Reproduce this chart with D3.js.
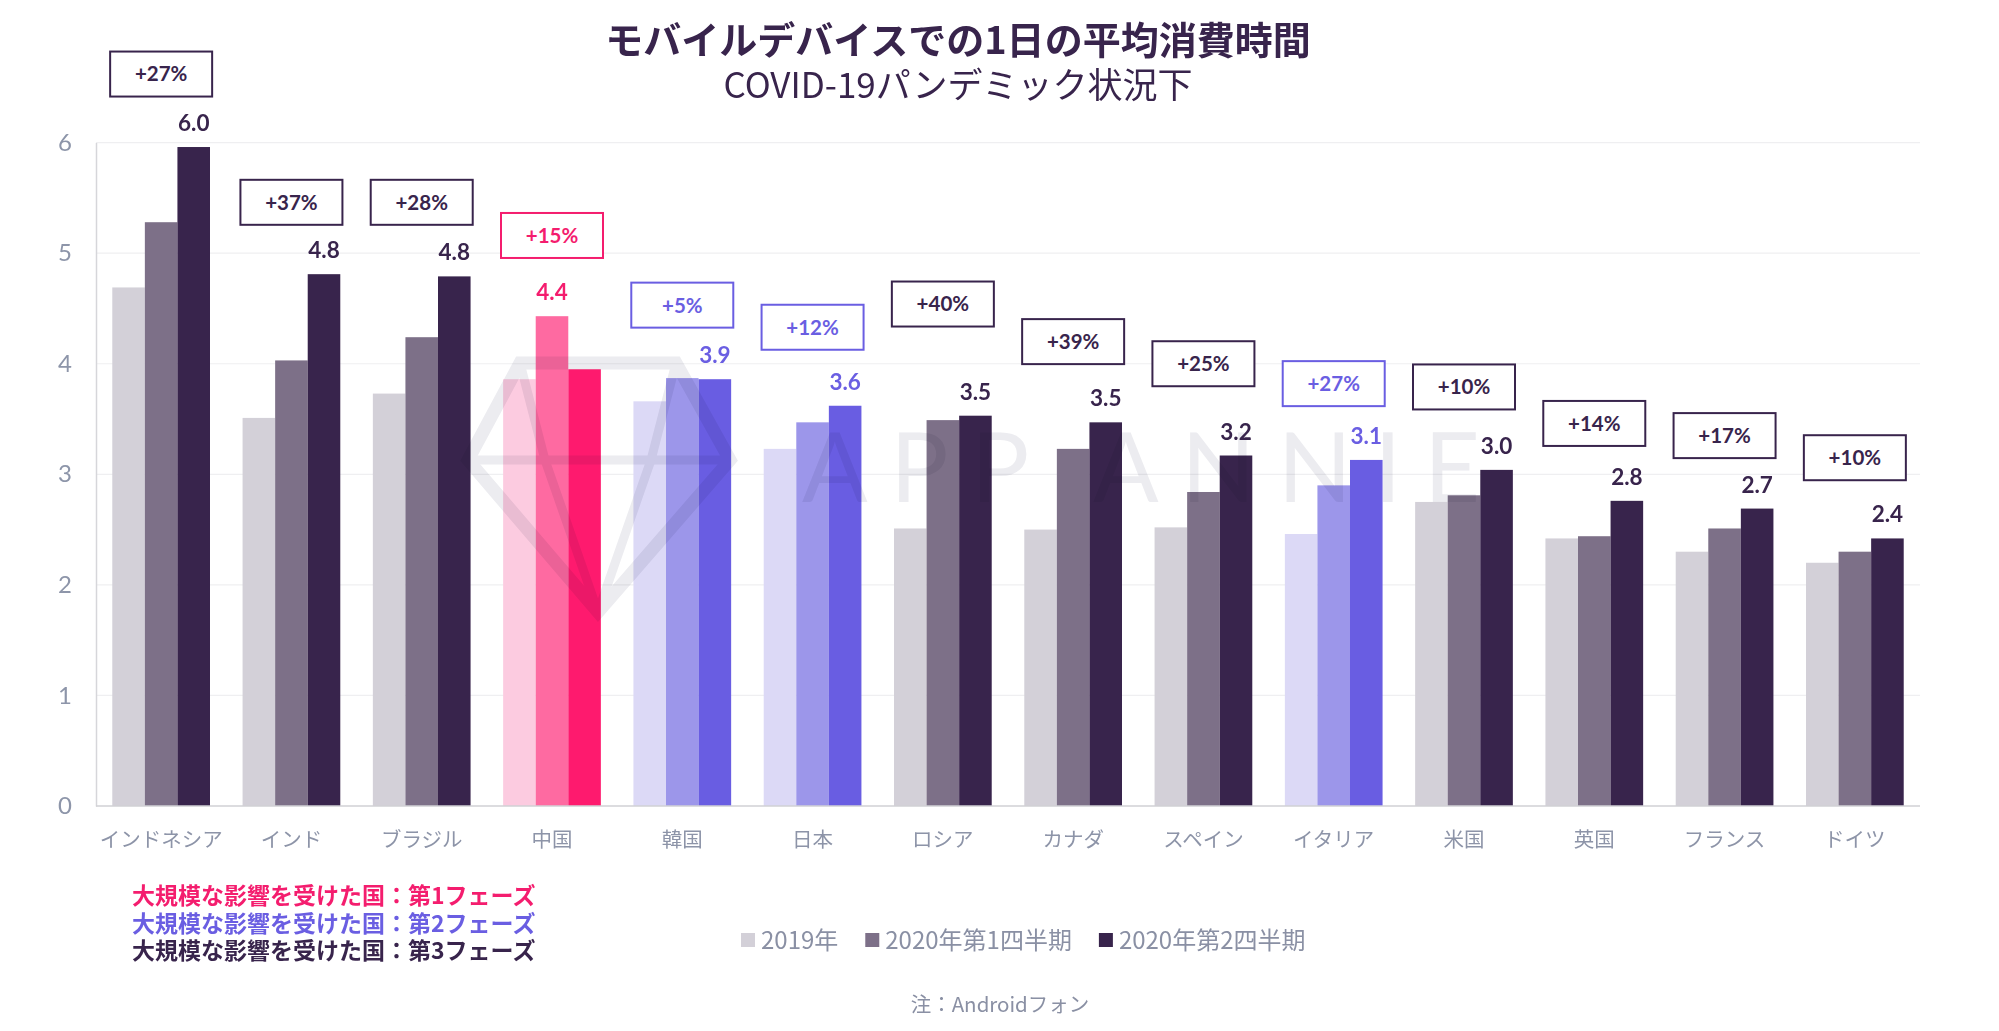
<!DOCTYPE html>
<html>
<head>
<meta charset="utf-8">
<script src="https://cdn.jsdelivr.net/npm/d3@7"></script>
<style>
  body { margin: 0; background: #fff; }
  svg { display: block; }
  text { font-family: Lato, "Noto Sans CJK JP", sans-serif; }
  .jp { font-family: "Noto Sans CJK JP", sans-serif; }
  .watermark { mix-blend-mode: multiply; }
</style>
</head>
<body>
<div id="chart"></div>
<script>
const countries = ["インドネシア", "インド", "ブラジル", "中国", "韓国", "日本", "ロシア",
  "カナダ", "スペイン", "イタリア", "米国", "英国", "フランス", "ドイツ"];
const seriesNames = ["2019年", "2020年第1四半期", "2020年第2四半期"];
const values2019 = [4.69, 3.51, 3.73, 3.86, 3.66, 3.23, 2.51, 2.50, 2.52, 2.46, 2.75, 2.42, 2.30, 2.20];
const valuesQ1 = [5.28, 4.03, 4.24, 4.43, 3.87, 3.47, 3.49, 3.23, 2.84, 2.90, 2.81, 2.44, 2.51, 2.30];
const valuesQ2 = [5.96, 4.81, 4.79, 3.95, 3.86, 3.62, 3.53, 3.47, 3.17, 3.13, 3.04, 2.76, 2.69, 2.42];
const changes = ["+27%", "+37%", "+28%", "+15%", "+5%", "+12%", "+40%",
  "+39%", "+25%", "+27%", "+10%", "+14%", "+17%", "+10%"];
// 1 = 第1フェーズ, 2 = 第2フェーズ, 3 = 第3フェーズ
const phases = [3, 3, 3, 1, 2, 2, 3, 3, 3, 2, 3, 3, 3, 3];
// height (in hours) where each change box sits
const boxLevels = [6.62, 5.46, 5.46, 5.16, 4.53, 4.33, 4.54, 4.20, 4.00, 3.82, 3.79, 3.46, 3.35, 3.15];
// which series carries the value label
const labelSeries = [2, 2, 2, 1, 2, 2, 2, 2, 2, 2, 2, 2, 2, 2];
const yTicks = [0, 1, 2, 3, 4, 5, 6];
const phaseNotes = [
  "大規模な影響を受けた国：第1フェーズ",
  "大規模な影響を受けた国：第2フェーズ",
  "大規模な影響を受けた国：第3フェーズ",
];

const palette = {
  1: { bars: ["#fccbe0", "#fe6aa1", "#fe1a6e"], text: "#f41d6e" },
  2: { bars: ["#dcd9f6", "#9c96ea", "#695de2"], text: "#6a5ee2" },
  3: { bars: ["#d3d0d8", "#7d7088", "#38244c"], text: "#38244c" },
};

const W = 1999, H = 1031;
const margin = { top: 142.6, right: 79, bottom: 225, left: 96 };

let data = countries.map((c, i) => ({
  country: c,
  values: [values2019[i], valuesQ1[i], valuesQ2[i]],
  change: changes[i],
  phase: phases[i],
  boxLevel: boxLevels[i],
  labelSeries: labelSeries[i],
}));

let svg = d3.select("#chart").append("svg").attr("width", W).attr("height", H);
svg.append("rect").attr("width", W).attr("height", H).attr("fill", "#fff");

let x0 = d3.scaleBand()
  .domain(countries)
  .range([margin.left, W - margin.right])
  .paddingInner(0.25)
  .paddingOuter(0.125);
let x1 = d3.scaleBand().domain([0, 1, 2]).range([0, x0.bandwidth()]);
let y = d3.scaleLinear().domain([0, 6]).range([H - margin.bottom, margin.top]);
let groupCenter = (d) => x0(d.country) + x0.bandwidth() / 2;

// title
svg.append("text").attr("class", "jp")
  .attr("x", 958).attr("y", 54)
  .attr("text-anchor", "middle")
  .attr("font-size", 38).attr("font-weight", 700)
  .attr("fill", "#38244c")
  .text("モバイルデバイスでの1日の平均消費時間");
svg.append("text").attr("class", "jp")
  .attr("x", 958).attr("y", 98)
  .attr("text-anchor", "middle")
  .attr("font-size", 35)
  .attr("fill", "#38244c")
  .text("COVID-19パンデミック状況下");

// grid + axes
let gridX1 = margin.left, gridX2 = W - margin.right;
svg.append("g")
  .selectAll("line")
  .data(yTicks.filter((t) => t > 0))
  .join("line")
  .attr("x1", gridX1).attr("x2", gridX2)
  .attr("y1", (d) => y(d)).attr("y2", (d) => y(d))
  .attr("stroke", "#efeff1").attr("stroke-width", 1.2);

let yAxis = svg.append("g")
  .attr("transform", `translate(${margin.left},0)`)
  .call(d3.axisLeft(y).tickValues(yTicks).tickSize(0).tickPadding(24).tickFormat(d3.format("d")));
yAxis.select(".domain").attr("stroke", "#d6d6da").attr("stroke-width", 1.5);
yAxis.selectAll(".tick text")
  .attr("font-size", 24).attr("fill", "#8d95a9")
  .attr("font-family", "Lato, sans-serif");

// bars
let groups = svg.append("g")
  .selectAll("g")
  .data(data)
  .join("g")
  .attr("transform", (d) => `translate(${x0(d.country)},0)`);
groups.selectAll("rect")
  .data((d) => d.values.map((v, k) => ({ v, k, phase: d.phase })))
  .join("rect")
  .attr("x", (d) => x1(d.k))
  .attr("width", x1.bandwidth())
  .attr("y", (d) => y(d.v))
  .attr("height", (d) => y(0) - y(d.v))
  .attr("fill", (d) => palette[d.phase].bars[d.k]);

// x axis
let xAxis = svg.append("g")
  .attr("transform", `translate(0,${y(0)})`)
  .call(d3.axisBottom(x0).tickSize(0).tickPadding(26).tickSizeOuter(0));
xAxis.select(".domain").attr("stroke", "#d0d0d4").attr("stroke-width", 1.5)
  .attr("d", `M${gridX1},0H${gridX2}`);
xAxis.selectAll(".tick text")
  .attr("font-size", 20.5).attr("fill", "#8d94a8")
  .attr("font-family", "'Noto Sans CJK JP', sans-serif");

// watermark
renderWatermark(svg.append("g").attr("class", "watermark"));

// value labels
svg.append("g")
  .selectAll("text")
  .data(data)
  .join("text")
  .attr("x", (d) => x0(d.country) + x1(d.labelSeries) + x1.bandwidth() / 2)
  .attr("y", (d) => y(d.values[d.labelSeries]) - 16)
  .attr("text-anchor", "middle")
  .attr("font-size", 22.5).attr("font-weight", 700)
  .attr("fill", (d) => palette[d.phase].text)
  .text((d) => d.values[d.labelSeries].toFixed(1));

// change boxes
let boxW = 102, boxH = 45;
let box = svg.append("g")
  .selectAll("g")
  .data(data)
  .join("g")
  .attr("transform", (d) => `translate(${groupCenter(d)},${y(d.boxLevel)})`);
box.append("rect")
  .attr("x", -boxW / 2).attr("y", -boxH / 2)
  .attr("width", boxW).attr("height", boxH)
  .attr("fill", "#fff")
  .attr("stroke", (d) => palette[d.phase].text)
  .attr("stroke-width", 2);
box.append("text")
  .attr("text-anchor", "middle")
  .attr("dy", "0.36em")
  .attr("font-size", 20.5).attr("font-weight", 700)
  .attr("fill", (d) => palette[d.phase].text)
  .text((d) => d.change);

// phase notes
svg.append("g")
  .selectAll("text")
  .data(phaseNotes)
  .join("text")
  .attr("class", "jp")
  .attr("x", 132)
  .attr("y", (d, i) => 896 + i * 27.5)
  .attr("dy", "0.36em")
  .attr("font-size", 23).attr("font-weight", 700)
  .attr("fill", (d, i) => palette[i + 1].text)
  .text((d) => d);

// legend
let lx = 741;
seriesNames.forEach((name, k) => {
  svg.append("rect")
    .attr("x", lx).attr("y", 933)
    .attr("width", 14).attr("height", 14)
    .attr("fill", palette[3].bars[k]);
  let t = svg.append("text").attr("class", "jp")
    .attr("x", lx + 20).attr("y", 940).attr("dy", "0.36em")
    .attr("font-size", 24).attr("fill", "#8a90a4")
    .text(name);
  lx += 20 + t.node().getComputedTextLength() + 27;
});

// footnote
svg.append("text").attr("class", "jp")
  .attr("x", 1000).attr("y", 1005).attr("dy", "0.36em")
  .attr("text-anchor", "middle")
  .attr("font-size", 20.5).attr("fill", "#8a90a4")
  .text("注：Androidフォン");

function renderWatermark(g) {
  let col = "#ececf0";
  let gem = [[520, 363], [676, 363], [730, 460], [598, 612], [468, 460]];
  g.append("path")
    .attr("d", "M" + gem.map((p) => p.join(",")).join("L") + "Z")
    .attr("fill", "none").attr("stroke", col).attr("stroke-width", 13)
    .attr("stroke-linejoin", "miter");
  let inner = [
    [[468, 460], [730, 460]],
    [[520, 363], [545, 460]],
    [[676, 363], [651, 460]],
    [[545, 460], [598, 612]],
    [[651, 460], [598, 612]],
  ];
  g.selectAll(".facet")
    .data(inner)
    .join("line")
    .attr("class", "facet")
    .attr("x1", (d) => d[0][0]).attr("y1", (d) => d[0][1])
    .attr("x2", (d) => d[1][0]).attr("y2", (d) => d[1][1])
    .attr("stroke", col).attr("stroke-width", 9);
  g.append("text")
    .attr("x", 802).attr("y", 502)
    .attr("font-family", "Lato, sans-serif")
    .attr("font-weight", 400)
    .attr("font-size", 97)
    .attr("textLength", 678)
    .attr("lengthAdjust", "spacing")
    .attr("fill", col)
    .text("APP ANNIE");
}
</script>
</body>
</html>
